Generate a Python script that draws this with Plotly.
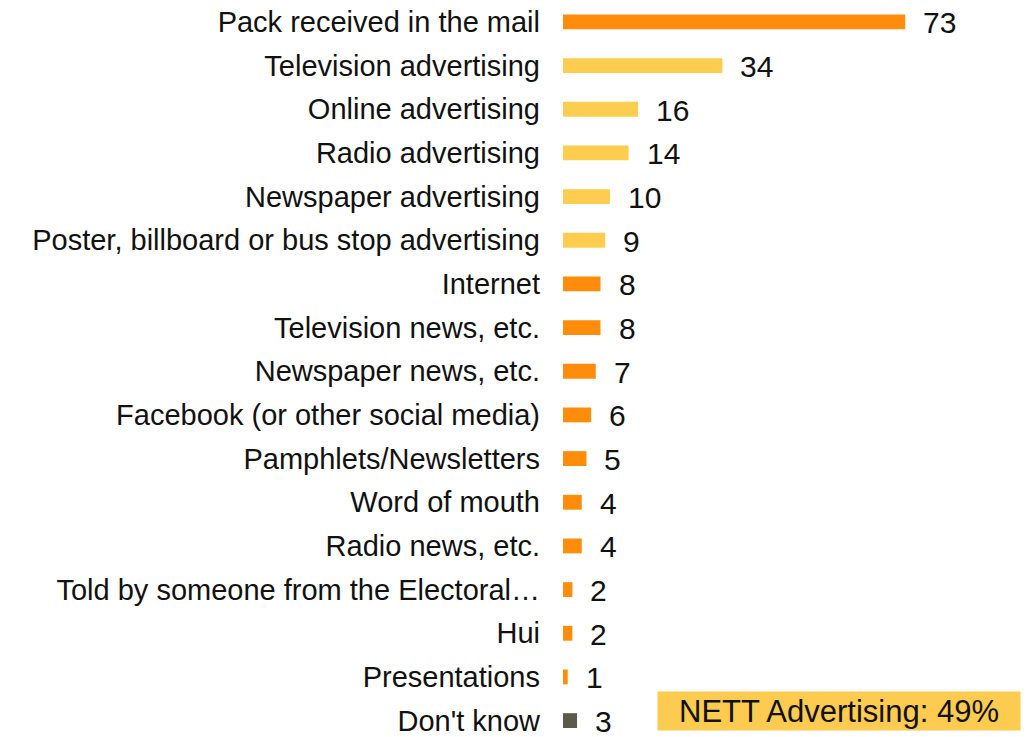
import plotly.graph_objects as go

# Sources of awareness (percent of respondents)
categories = [
    "Pack received in the mail",
    "Television advertising",
    "Online advertising",
    "Radio advertising",
    "Newspaper advertising",
    "Poster, billboard or bus stop advertising",
    "Internet",
    "Television news, etc.",
    "Newspaper news, etc.",
    "Facebook (or other social media)",
    "Pamphlets/Newsletters",
    "Word of mouth",
    "Radio news, etc.",
    "Told by someone from the Electoral…",
    "Hui",
    "Presentations",
    "Don't know",
]
values = [73, 34, 16, 14, 10, 9, 8, 8, 7, 6, 5, 4, 4, 2, 2, 1, 3]
groups = ["other", "advert", "advert", "advert", "advert", "advert",
          "other", "other", "other", "other", "other", "other", "other",
          "other", "other", "other", "dk"]
nett_label = "NETT Advertising: 49%"

palette = {"other": "#FF8C0A", "advert": "#FDCD50", "dk": "#5B5A4B"}
bar_colors = [palette[g] for g in groups]

font_family = "'Liberation Sans', Arial, sans-serif"

fig = go.Figure(
    go.Bar(
        x=values,
        y=categories,
        orientation="h",
        marker=dict(color=bar_colors, line=dict(width=0)),
        width=0.34,
        hoverinfo="x+y",
    )
)

# value labels to the right of each bar
annotations = [
    dict(x=v, y=c, xref="x", yref="y", text=str(v), showarrow=False,
         xanchor="left", yanchor="middle", xshift=16, yshift=-1,
         font=dict(size=30, color="#111111", family=font_family))
    for c, v in zip(categories, values)
]
annotations.append(
    dict(x=1.0, y=0.0055, xref="paper", yref="paper", text=nett_label,
         showarrow=False, xanchor="right", yanchor="bottom",
         bgcolor="#FDCB4F", borderpad=1, width=360, height=36,
         font=dict(size=31, color="#111111", family=font_family))
)

fig.update_layout(
    width=1035,
    height=737,
    margin=dict(l=563, r=14, t=0, b=0),
    paper_bgcolor="white",
    plot_bgcolor="white",
    showlegend=False,
    font=dict(family=font_family, size=29, color="#111111"),
    xaxis=dict(range=[0, 97.7], visible=False, fixedrange=True),
    yaxis=dict(
        range=[16.33, -0.502],
        showgrid=False,
        zeroline=False,
        showline=False,
        ticks="",
        ticklabelstandoff=22,
        tickfont=dict(size=29, color="#111111", family=font_family),
        fixedrange=True,
    ),
    annotations=annotations,
)

fig.write_html("out.html")
